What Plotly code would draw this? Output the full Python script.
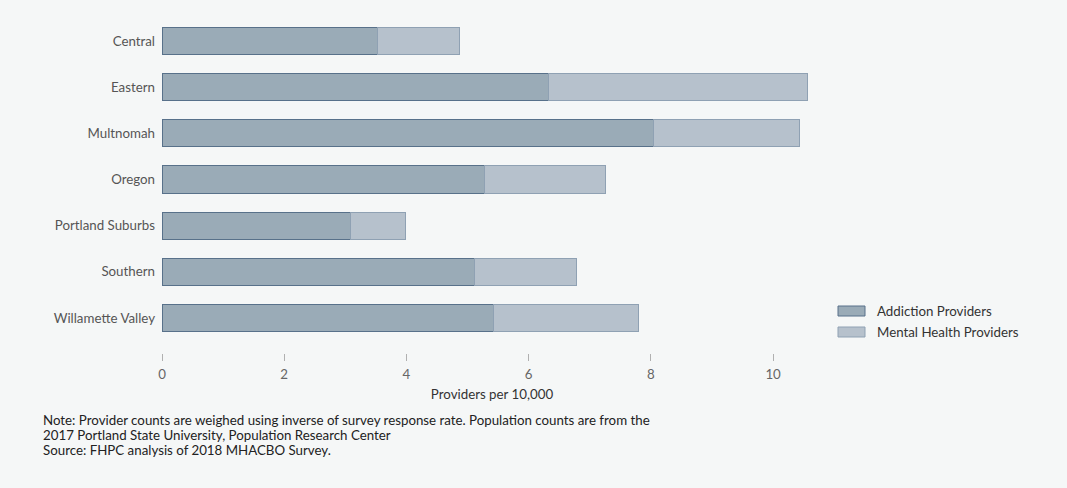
import plotly.graph_objects as go

regions = ["Central", "Eastern", "Multnomah", "Oregon", "Portland Suburbs", "Southern", "Willamette Valley"]
addiction = [3.52, 6.33, 8.05, 5.27, 3.08, 5.12, 5.43]
mental = [1.34, 4.23, 2.38, 1.98, 0.91, 1.67, 2.36]
x_ticks = [0, 2, 4, 6, 8, 10]
series_names = ["Addiction Providers", "Mental Health Providers"]
fill_colors = ["#9aabb7", "#b6c1cc"]
line_colors = ["#58718a", "#8fa1b3"]
note_lines = [
    "Note: Provider counts are weighed using inverse of survey response rate. Population counts are from the",
    "2017 Portland State University, Population Research Center",
    "Source: FHPC analysis of 2018 MHACBO Survey.",
]

FONT = "Lato, 'Open Sans', sans-serif"
FS = 13.3
BG = "#f5f7f7"

# plot area in pixels
L, R, T, B = 162, 822, 18, 353
PW, PH = R - L, B - T
def px(x):
    return (x - L) / PW
def py(y):
    return (B - y) / PH

fig = go.Figure()
for name, vals, fc, lc in zip(series_names, [addiction, mental], fill_colors, line_colors):
    fig.add_trace(go.Bar(
        y=regions, x=vals, orientation="h", name=name,
        marker=dict(color=fc, line=dict(color=lc, width=1)),
    ))

shapes = []
annotations = []
# custom legend
for i, (name, fc, lc) in enumerate(zip(series_names, fill_colors, line_colors)):
    cy = 311 + 21 * i
    shapes.append(dict(type="rect", xref="paper", yref="paper",
                       x0=px(838), x1=px(865), y0=py(cy - 5), y1=py(cy + 5),
                       fillcolor=fc, line=dict(color=lc, width=1)))
    annotations.append(dict(xref="paper", yref="paper", x=px(875), y=py(cy),
                            xanchor="left", yanchor="middle", showarrow=False,
                            text=name, font=dict(family=FONT, size=FS, color="#333333")))
for i, line in enumerate(note_lines):
    annotations.append(dict(xref="paper", yref="paper", x=px(41), y=py(420 + 15 * i),
                            xanchor="left", yanchor="middle", align="left", showarrow=False,
                            text=line, font=dict(family=FONT, size=FS, color="#222222")))

fig.update_layout(
    width=1067, height=488,
    barmode="stack", bargap=0.413,
    paper_bgcolor=BG, plot_bgcolor=BG,
    margin=dict(l=L, r=1067 - R, t=T, b=488 - B),
    font=dict(family=FONT, size=FS, color="#555555"),
    showlegend=False,
    xaxis=dict(
        range=[0, 10.8], tickvals=x_ticks, ticks="outside", ticklen=7,
        tickcolor="#b0b0b0", tickwidth=1, showgrid=False, zeroline=False,
        showline=False, tickfont=dict(color="#666666", size=FS), ticklabelstandoff=2,
        title=dict(text="Providers per 10,000", font=dict(color="#333333", size=FS), standoff=8),
        fixedrange=True,
    ),
    yaxis=dict(
        categoryorder="array", categoryarray=regions,
        range=[6.76, -0.5], showgrid=False, zeroline=False, showline=False,
        ticks="", ticklabelstandoff=6, tickfont=dict(color="#555555", size=FS),
        fixedrange=True,
    ),
    shapes=shapes,
    annotations=annotations,
)

fig.write_html("out.html", config={"displayModeBar": False},
               post_script="document.body.style.margin='0';")
